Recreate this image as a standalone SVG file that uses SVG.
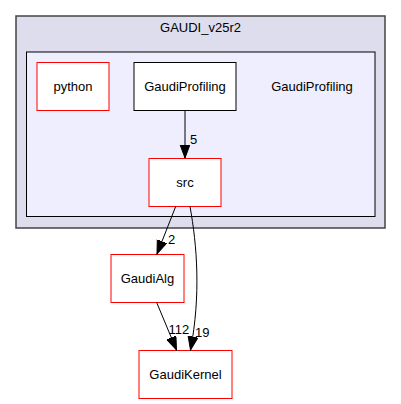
<svg xmlns="http://www.w3.org/2000/svg" width="401" height="404" viewBox="0 0 401 404">
<style>
text{font-family:"Liberation Sans",Arial,sans-serif;font-size:13px;fill:#000}
.red{fill:#fff;stroke:#ff0000;stroke-width:1}
.blk{fill:#fff;stroke:#000;stroke-width:1}
.edge{fill:none;stroke:#000;stroke-width:1}
</style>
<defs>
<marker id="ah" markerUnits="userSpaceOnUse" markerWidth="16" markerHeight="12" refX="13.5" refY="5" orient="auto">
<path d="M0,0 L13.5,5 L0,10 Z" fill="#000" stroke="#000" stroke-width="1"/>
</marker>
</defs>
<rect width="401" height="404" fill="#fff"/>
<g id="cluster_GAUDI_v25r2">
<rect x="16" y="16" width="369" height="212" fill="#ddddee" stroke="#444" stroke-width="1.5"/>
<text x="200.5" y="32" text-anchor="middle">GAUDI_v25r2</text>
</g>
<g id="cluster_GaudiProfiling">
<rect x="26.5" y="52" width="348.5" height="164.5" fill="#eeeeff" stroke="#000" stroke-width="1"/>
<text x="312" y="91" text-anchor="middle">GaudiProfiling</text>
</g>
<g id="node_python">
<rect class="red" x="37" y="62.5" width="72" height="48"/>
<text x="73" y="91" text-anchor="middle">python</text>
</g>
<g id="node_GaudiProfiling">
<rect class="blk" x="134" y="62.5" width="102" height="48"/>
<text x="185" y="91" text-anchor="middle">GaudiProfiling</text>
</g>
<g id="node_src">
<rect class="red" x="149" y="158.5" width="72" height="48"/>
<text x="185" y="187" text-anchor="middle">src</text>
</g>
<g id="node_GaudiAlg">
<rect class="red" x="111" y="254.5" width="73" height="48"/>
<text x="147.5" y="283" text-anchor="middle">GaudiAlg</text>
</g>
<g id="node_GaudiKernel">
<rect class="red" x="139" y="350.5" width="93" height="48"/>
<text x="185.5" y="379" text-anchor="middle">GaudiKernel</text>
</g>
<g id="connectors">
<path class="edge" d="M185,110.5 L185,158" marker-end="url(#ah)"/>
<text x="190" y="143.5">5</text>
<path class="edge" d="M175.7,206.5 L157,254" marker-end="url(#ah)"/>
<text x="168" y="243.5">2</text>
<path class="edge" d="M156.7,302.5 L176.5,350" marker-end="url(#ah)"/>
<text x="168.5" y="333.5">112</text>
<path class="edge" d="M190,206.5 C197,245 201,295 190.5,350" marker-end="url(#ah)"/>
<text x="195" y="336.5">19</text>
</g>
</svg>
